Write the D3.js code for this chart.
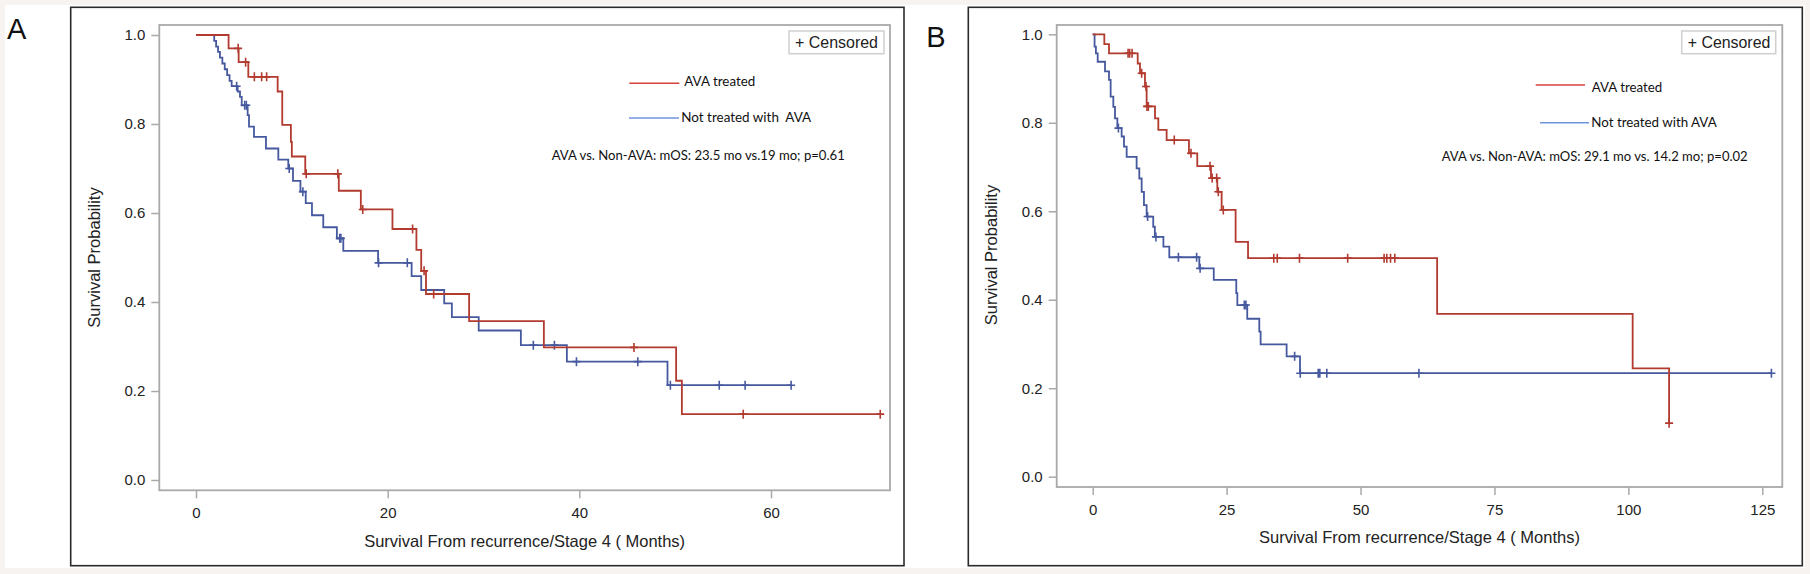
<!DOCTYPE html>
<html><head><meta charset="utf-8">
<script src="https://cdn.jsdelivr.net/npm/d3@7"></script>
<style>html,body{margin:0;padding:0;background:#f6f3f1;} svg{display:block;}</style>
</head><body>
<svg id="chart" width="1810" height="574"></svg>
<script>
// ---------------- data ----------------
const panelLabels = ["A", "B"];
const legendLabelsA = ["AVA treated", "Not treated with  AVA"];
const legendLabelsB = ["AVA treated", "Not treated with AVA"];
const statTextA = "AVA vs. Non-AVA: mOS: 23.5 mo vs.19 mo; p=0.61";
const statTextB = "AVA vs. Non-AVA: mOS: 29.1 mo vs. 14.2 mo; p=0.02";
const censoredLabel = "+ Censored";
const xTitle = "Survival From recurrence/Stage 4 ( Months)";
const yTitle = "Survival Probability";
const yTicks = [0, 0.2, 0.4, 0.6, 0.8, 1.0];
const xTicksA = [0, 20, 40, 60];
const xTicksB = [0, 25, 50, 75, 100, 125];

// Panel A - AVA treated
const aTreatedTime = [3.4, 4.45, 5.46, 8.52, 9.0, 9.9, 10.0, 11.4, 14.9, 17.2, 20.5, 23.0, 23.5, 24.0, 28.5, 36.3, 50.1, 50.7];
const aTreatedSurv = [0.970, 0.939, 0.906, 0.873, 0.798, 0.760, 0.727, 0.688, 0.650, 0.608, 0.564, 0.517, 0.470, 0.418, 0.357, 0.298, 0.223, 0.148];
const aTreatedCensor = [4.4, 5.18, 6.09, 6.85, 7.37, 11.5, 14.8, 17.4, 22.6, 23.8, 24.8, 45.7, 57.1, 71.4];
// Panel A - not treated with AVA
const aUntreatedTime = [1.9, 2.1, 2.3, 2.5, 2.75, 3.0, 3.25, 3.5, 3.72, 4.35, 4.59, 4.77, 5.39, 5.53, 6.05, 7.3, 8.59, 9.63, 10.12, 10.9, 11.45, 12.1, 13.28, 14.7, 15.37, 19.0, 22.5, 23.5, 25.9, 26.7, 29.5, 33.9, 38.7, 49.2];
const aUntreatedSurv = [0.987, 0.974, 0.962, 0.949, 0.936, 0.923, 0.910, 0.897, 0.885, 0.873, 0.861, 0.842, 0.820, 0.794, 0.771, 0.745, 0.720, 0.700, 0.672, 0.648, 0.622, 0.595, 0.568, 0.543, 0.515, 0.488, 0.458, 0.427, 0.397, 0.366, 0.336, 0.303, 0.266, 0.213];
const aUntreatedCensor = [4.24, 5.08, 5.25, 9.73, 11.15, 15.0, 15.12, 19.05, 22.05, 35.2, 37.4, 39.7, 46.1, 49.5, 54.6, 57.3, 62.1];

// Panel B - AVA treated
const bTreatedTime = [2.17, 3.04, 8.4, 8.83, 9.76, 10.07, 11.63, 12.25, 13.8, 17.97, 19.52, 22.08, 23.26, 24.07, 26.68, 29.0, 64.3, 100.8, 107.6];
const bTreatedSurv = [0.978, 0.957, 0.934, 0.912, 0.882, 0.837, 0.810, 0.784, 0.761, 0.731, 0.702, 0.675, 0.644, 0.603, 0.531, 0.494, 0.368, 0.245, 0.121];
const bTreatedCensor = [6.6, 6.9, 7.35, 9.14, 9.95, 10.13, 10.38, 15.23, 18.35, 21.9, 22.3, 23.14, 23.45, 24.38, 33.8, 34.45, 38.6, 47.6, 54.4, 54.9, 55.6, 56.4, 107.6];
// Panel B - not treated with AVA
const bUntreatedTime = [0.35, 0.6, 0.93, 2.3, 3.04, 3.35, 3.85, 4.16, 4.6, 5.4, 5.84, 6.34, 8.2, 8.7, 9.14, 9.57, 10.07, 11.3, 11.6, 13.2, 14.3, 19.9, 22.6, 26.8, 27.0, 28.85, 31.1, 31.35, 36.2, 38.7];
const bUntreatedSurv = [0.972, 0.957, 0.938, 0.916, 0.897, 0.859, 0.836, 0.810, 0.788, 0.769, 0.746, 0.723, 0.697, 0.674, 0.644, 0.614, 0.588, 0.565, 0.542, 0.520, 0.496, 0.471, 0.445, 0.415, 0.388, 0.357, 0.328, 0.299, 0.272, 0.234];
const bUntreatedCensor = [4.8, 10.25, 11.8, 16.0, 19.4, 20.05, 28.3, 28.6, 37.7, 38.75, 42.1, 42.4, 43.7, 60.9, 126.7];

// ---------------- style ----------------
const RED = "#b23a2f", BLUE = "#46599f";
const LEG_RED = "#d8403b", LEG_BLUE = "#6f93e0";
const AXIS_GRAY = "#a9a9a9";
const SANS = "'Liberation Sans', Arial, sans-serif";
const CAL = "Lato, 'Open Sans', sans-serif";

const svg = d3.select("#chart");
svg.append("rect").attr("x", 5).attr("y", 5).attr("width", 1800).attr("height", 563).attr("fill", "#fff");

function fitText(sel, target) {
  const w = sel.node().getComputedTextLength();
  const fs = parseFloat(sel.attr("font-size"));
  if (w > 0) sel.attr("font-size", (fs * target / w).toFixed(2));
}

function drawPanel(P) {
  const g = svg.append("g");
  // outer frame
  g.append("rect").attr("x", P.frame[0]).attr("y", P.frame[1])
    .attr("width", P.frame[2] - P.frame[0]).attr("height", P.frame[3] - P.frame[1])
    .attr("fill", "#fff").attr("stroke", "#2a2a2a").attr("stroke-width", 1.6);
  // panel letter
  g.append("text").attr("x", P.letterPos[0]).attr("y", P.letterPos[1])
    .attr("font-family", SANS).attr("font-size", 29).attr("fill", "#111").text(P.letter);

  const x = d3.scaleLinear().domain(P.xDomain).range(P.xRange);
  const y = d3.scaleLinear().domain([0, 1]).range(P.yRange);
  const [pl, pt, pr, pb] = P.plot;

  // axes
  const ya = g.append("g").attr("transform", `translate(${pl},0)`)
    .call(d3.axisLeft(y).tickValues(yTicks).tickFormat(d3.format(".1f")).tickSize(8).tickSizeOuter(0).tickPadding(6));
  const xa = g.append("g").attr("transform", `translate(0,${pb})`)
    .call(d3.axisBottom(x).tickValues(P.xTicks).tickFormat(d3.format("d")).tickSize(8).tickSizeOuter(0).tickPadding(9));
  [ya, xa].forEach(a => {
    a.select(".domain").remove();
    a.selectAll(".tick line").attr("stroke", AXIS_GRAY).attr("stroke-width", 1.5);
    a.selectAll(".tick text").attr("font-family", SANS).attr("font-size", 15).attr("fill", "#222");
  });
  // plot frame
  g.append("rect").attr("x", pl).attr("y", pt).attr("width", pr - pl).attr("height", pb - pt)
    .attr("fill", "none").attr("stroke", AXIS_GRAY).attr("stroke-width", 1.8);

  // axis titles
  g.append("text").attr("transform", `translate(${P.yTitlePos[0]},${P.yTitlePos[1]}) rotate(-90)`)
    .attr("text-anchor", "middle").attr("dy", "0.35em")
    .attr("font-family", SANS).attr("font-size", 16.5).attr("fill", "#222").text(yTitle);
  g.append("text").attr("x", (pl + pr) / 2).attr("y", P.xTitleY).attr("dy", "0.35em")
    .attr("text-anchor", "middle")
    .attr("font-family", SANS).attr("font-size", 16.5).attr("fill", "#222").text(xTitle);

  // curves
  const line = d3.line().x(d => x(d[0])).y(d => y(d[1])).curve(d3.curveStepAfter);
  P.series.forEach(s => {
    const pts = [[0, 1]];
    s.time.forEach((t, i) => pts.push([t, s.surv[i]]));
    const endT = Math.max(d3.max(s.censor), d3.max(s.time));
    pts.push([endT, s.surv[s.surv.length - 1]]);
    g.append("path").attr("d", line(pts)).attr("fill", "none")
      .attr("stroke", s.color).attr("stroke-width", 1.8);
    const level = t => { let v = 1; s.time.forEach((tt, i) => { if (tt <= t) v = s.surv[i]; }); return v; };
    s.censor.forEach(t => {
      const cx = x(t), cy = y(level(t));
      g.append("path").attr("d", `M${cx - 4},${cy}H${cx + 4}M${cx},${cy - 4.5}V${cy + 4.5}`)
        .attr("stroke", s.color).attr("stroke-width", 1.6).attr("fill", "none");
    });
  });

  // censored box
  const cb = P.censBox;
  g.append("rect").attr("x", cb[0]).attr("y", cb[1]).attr("width", cb[2]).attr("height", cb[3])
    .attr("fill", "#fff").attr("stroke", "#cfcfcf").attr("stroke-width", 1.5);
  const ct = g.append("text").attr("x", cb[0] + 6).attr("y", cb[1] + cb[3] / 2).attr("dy", "0.36em")
    .attr("font-family", SANS).attr("font-size", 16).attr("fill", "#222").text(censoredLabel);
  fitText(ct, P.censW);

  // legend
  P.legend.forEach((L, i) => {
    g.append("line").attr("x1", L.x1).attr("x2", L.x2).attr("y1", L.ly).attr("y2", L.ly)
      .attr("stroke", L.color).attr("stroke-width", 1.6);
    const t = g.append("text").attr("x", L.tx).attr("y", L.ty).attr("dy", "0.36em")
      .attr("font-family", CAL).attr("font-size", 14).attr("fill", "#111")
      .style("white-space", "pre").text(L.label);
    fitText(t, L.w);
  });
  const st = g.append("text").attr("x", P.stat.x).attr("y", P.stat.y).attr("dy", "0.36em")
    .attr("font-family", CAL).attr("font-size", 14).attr("fill", "#111").text(P.stat.label);
  fitText(st, P.stat.w);
}

drawPanel({
  letter: panelLabels[0], letterPos: [7, 39.3],
  frame: [70.7, 7.3, 904, 565.7], plot: [159.3, 25, 890, 490.3],
  xDomain: [0, 60], xRange: [196, 771], yRange: [480, 35], xTicks: xTicksA,
  yTitlePos: [94.7, 257.5], xTitleY: 541.7,
  series: [
    {time: aUntreatedTime, surv: aUntreatedSurv, censor: aUntreatedCensor, color: BLUE},
    {time: aTreatedTime, surv: aTreatedSurv, censor: aTreatedCensor, color: RED}
  ],
  censBox: [789, 31, 95, 22.7], censW: 83,
  legend: [
    {x1: 629.3, x2: 679.3, ly: 83.3, tx: 684.3, ty: 81.3, w: 71, color: LEG_RED, label: legendLabelsA[0]},
    {x1: 629, x2: 679, ly: 118, tx: 681.3, ty: 117.3, w: 130, color: LEG_BLUE, label: legendLabelsA[1]}
  ],
  stat: {x: 551.7, y: 155, w: 293, label: statTextA}
});

drawPanel({
  letter: panelLabels[1], letterPos: [926.3, 46.7],
  frame: [968.3, 7.3, 1802.3, 565.7], plot: [1056.7, 25, 1782.3, 487],
  xDomain: [0, 125], xRange: [1092.7, 1762.3], yRange: [476.7, 34.3], xTicks: xTicksB,
  yTitlePos: [991.5, 255], xTitleY: 537.5,
  series: [
    {time: bUntreatedTime, surv: bUntreatedSurv, censor: bUntreatedCensor, color: BLUE},
    {time: bTreatedTime, surv: bTreatedSurv, censor: bTreatedCensor, color: RED}
  ],
  censBox: [1681.7, 31, 94, 22.7], censW: 82.7,
  legend: [
    {x1: 1535.7, x2: 1585, ly: 85, tx: 1591.7, ty: 87.3, w: 70.6, color: LEG_RED, label: legendLabelsB[0]},
    {x1: 1540, x2: 1589, ly: 122.7, tx: 1591.3, ty: 122.3, w: 125.4, color: LEG_BLUE, label: legendLabelsB[1]}
  ],
  stat: {x: 1441.7, y: 156.7, w: 306.3, label: statTextB}
});
</script>
</body></html>
